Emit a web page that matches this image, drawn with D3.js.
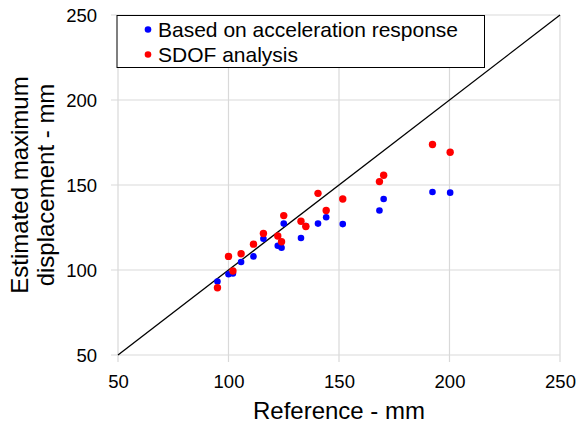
<!DOCTYPE html>
<html>
<head>
<meta charset="utf-8">
<script src="https://cdn.jsdelivr.net/npm/d3@7"></script>
<style>
  body { margin: 0; background: #fff; }
  text { font-family: "Liberation Sans", Arial, sans-serif; fill: #000; }
</style>
</head>
<body>
<div id="chart"></div>
<script>
// reference displacement (mm)
var refValues = [95, 100, 102, 105.7, 111.3, 115.8, 122.3, 124, 125, 132.8, 135, 140.5, 144.2, 151.7, 168.3, 170.2, 192.3, 200.3];
// estimated from acceleration response
var accelValues = [93.2, 97.5, 98, 104.7, 108, 118.4, 114.3, 113.1, 127.3, 118.8, 125.8, 127.3, 131, 127, 135, 141.8, 145.9, 145.5];
// estimated from SDOF analysis
var sdofValues = [89.6, 108, 99.4, 109.6, 115.2, 121.5, 120, 116.6, 132, 128.7, 125.6, 145.1, 135, 141.8, 152, 155.7, 173.8, 169.3];
var tickValues = [50, 100, 150, 200, 250];
var seriesNames = ["Based on acceleration response", "SDOF analysis"];
var seriesColors = ["#0000ff", "#ff0000"];

var width = 579, height = 425;
var margin = {left: 118, right: 19, top: 15, bottom: 70};

var svg = d3.select("#chart").append("svg")
  .attr("width", width)
  .attr("height", height);

var x = d3.scaleLinear().domain([50, 250]).range([margin.left, width - margin.right]);
var y = d3.scaleLinear().domain([50, 250]).range([height - margin.bottom, margin.top]);

// gridlines
svg.append("g").selectAll("line.vg")
  .data(tickValues).enter()
  .append("line")
  .attr("x1", function(d) { return x(d); })
  .attr("x2", function(d) { return x(d); })
  .attr("y1", y(250))
  .attr("y2", y(50) + 7)
  .attr("stroke", "#d9d9d9")
  .attr("stroke-width", 1.2);

svg.append("g").selectAll("line.hg")
  .data(tickValues).enter()
  .append("line")
  .attr("x1", x(50) - 7)
  .attr("x2", x(250))
  .attr("y1", function(d) { return y(d); })
  .attr("y2", function(d) { return y(d); })
  .attr("stroke", "#d9d9d9")
  .attr("stroke-width", 1.2);

// axes (labels only)
var xAxis = d3.axisBottom(x).tickValues(tickValues).tickSize(0).tickPadding(20);
var yAxis = d3.axisLeft(y).tickValues(tickValues).tickSize(0).tickPadding(21);

svg.append("g")
  .attr("transform", "translate(0," + y(50) + ")")
  .call(xAxis)
  .call(function(g) { g.select(".domain").remove(); })
  .selectAll("text")
  .style("font-size", "18.5px")
  .style("font-family", "Liberation Sans, Arial, sans-serif");

svg.append("g")
  .attr("transform", "translate(" + x(50) + ",0)")
  .call(yAxis)
  .call(function(g) { g.select(".domain").remove(); })
  .selectAll("text")
  .attr("dy", "0.35em")
  .style("font-size", "18.5px")
  .style("font-family", "Liberation Sans, Arial, sans-serif");

// 1:1 line
svg.append("line")
  .attr("x1", x(50)).attr("y1", y(50))
  .attr("x2", x(250)).attr("y2", y(250))
  .attr("stroke", "#000")
  .attr("stroke-width", 1.3);

// points
var pts = refValues.map(function(r, i) {
  return {ref: r, accel: accelValues[i], sdof: sdofValues[i]};
});

svg.append("g").selectAll("circle")
  .data(pts).enter()
  .append("circle")
  .attr("cx", function(d) { return x(d.ref); })
  .attr("cy", function(d) { return y(d.accel); })
  .attr("r", 3.3)
  .attr("fill", seriesColors[0]);

svg.append("g").selectAll("circle")
  .data(pts).enter()
  .append("circle")
  .attr("cx", function(d) { return x(d.ref); })
  .attr("cy", function(d) { return y(d.sdof); })
  .attr("r", 3.7)
  .attr("fill", seriesColors[1]);

// legend
var legend = svg.append("g");
legend.append("rect")
  .attr("x", 117).attr("y", 15.5)
  .attr("width", 367.5).attr("height", 52)
  .attr("fill", "#fff")
  .attr("stroke", "#000")
  .attr("stroke-width", 1);

seriesNames.forEach(function(name, i) {
  legend.append("circle")
    .attr("cx", 148).attr("cy", 29.5 + i * 25)
    .attr("r", 3.3)
    .attr("fill", seriesColors[i]);
  legend.append("text")
    .attr("x", 158).attr("y", 36.8 + i * 25.5)
    .style("font-size", "21px")
    .text(name);
});

// axis titles
svg.append("text")
  .attr("x", (x(50) + x(250)) / 2)
  .attr("y", 419)
  .attr("text-anchor", "middle")
  .style("font-size", "24px")
  .text("Reference - mm");

var yTitle = svg.append("text")
  .attr("transform", "translate(0," + 185 + ") rotate(-90)")
  .attr("text-anchor", "middle")
  .style("font-size", "24px");
yTitle.append("tspan").attr("x", 0).attr("y", 27.5).text("Estimated maximum");
yTitle.append("tspan").attr("x", 0).attr("y", 53.5).text("displacement - mm");
</script>
</body>
</html>
